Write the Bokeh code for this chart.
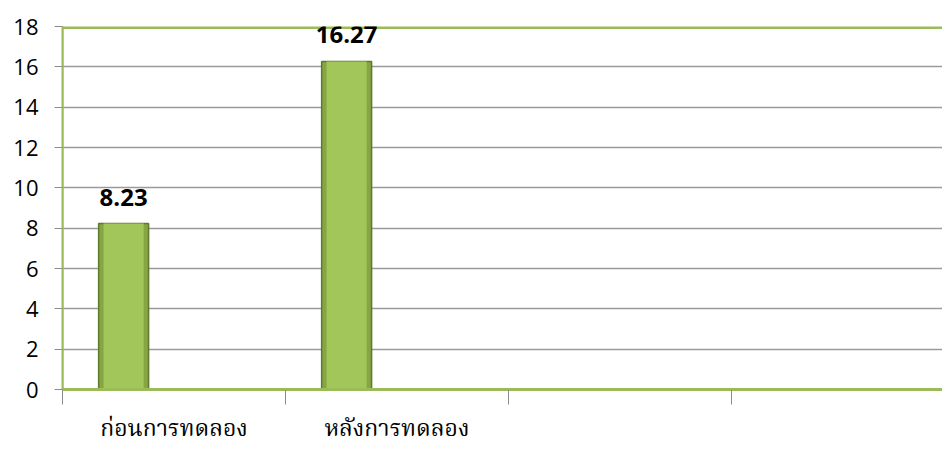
from bokeh.plotting import figure
from bokeh.models import Range1d, FixedTicker, Span, ColumnDataSource, LabelSet
from bokeh.core.properties import value
from bokeh.embed import file_html
from bokeh.resources import INLINE

categories = ["ก่อนการทดลอง", "หลังการทดลอง"]
values = [8.23, 16.27]
value_labels = ["8.23", "16.27"]
y_ticks = [0, 2, 4, 6, 8, 10, 12, 14, 16, 18]
n_slots = 4

GREEN = "#9BBB59"

bar_x = [i + 0.274 for i in range(len(values))]
src = ColumnDataSource(dict(x=bar_x, top=values, lab=value_labels))

p = figure(width=942, height=450, output_backend="svg", toolbar_location=None,
           x_range=Range1d(0, 3.946), y_range=Range1d(0, 18),
           min_border_left=62, min_border_top=26, min_border_right=0, min_border_bottom=61)
p.outline_line_color = None
p.background_fill_color = "white"

p.vbar(x="x", top="top", width=0.224, bottom=0, source=src,
       fill_color="#86A543", line_color="#5E7A2C", line_width=1.5)
# lighter inner face for bevel look
p.vbar(x="x", top="top", width=0.18, bottom=0, source=src,
       fill_color="#A2C659", line_color=None)

# grid
p.xgrid.visible = False
p.ygrid.ticker = FixedTicker(ticks=y_ticks)
p.ygrid.grid_line_color = "#9A9A9A"
p.ygrid.grid_line_width = 1.5

# frame lines
p.add_layout(Span(location=18, dimension="width", line_color=GREEN, line_width=5, level="underlay"))
p.add_layout(Span(location=0, dimension="height", line_color=GREEN, line_width=2, level="underlay"))

labels = LabelSet(x="x", y="top", text="lab", source=src, text_align="center",
                  text_baseline="alphabetic", y_offset=18, text_font=value("Open Sans"),
                  text_font_style="bold", text_font_size="24px", text_color="black",
                  level="overlay")
p.add_layout(labels)

# y axis
p.yaxis.ticker = FixedTicker(ticks=y_ticks, minor_ticks=[])
p.yaxis.axis_line_color = GREEN
p.yaxis.axis_line_width = 2
p.yaxis.major_tick_line_color = "#8C8C8C"
p.yaxis.major_tick_out = 8
p.yaxis.major_tick_in = 0
p.yaxis.major_label_text_font = "Open Sans"
p.yaxis.major_label_text_font_size = "22px"
p.yaxis.major_label_text_color = "black"
p.yaxis.major_label_standoff = 16

# x axis: labels at category positions, boundary ticks as minor ticks
label_pos = [i + 0.5 for i in range(len(categories))]
p.xaxis.ticker = FixedTicker(ticks=label_pos, minor_ticks=list(range(n_slots + 1)))
p.xaxis.major_label_overrides = {pos: c for pos, c in zip(label_pos, categories)}
p.xaxis.axis_line_color = GREEN
p.xaxis.axis_line_width = 3
p.xaxis.major_tick_out = 0
p.xaxis.major_tick_in = 0
p.xaxis.minor_tick_out = 15
p.xaxis.minor_tick_in = 0
p.xaxis.minor_tick_line_color = "#8C8C8C"
p.xaxis.minor_tick_line_width = 1
p.xaxis.major_label_text_font = "Noto Serif Thai, Liberation Serif, serif"
p.xaxis.major_label_text_font_size = "23px"
p.xaxis.major_label_text_color = "black"
p.xaxis.major_label_standoff = 7

open("out.html", "w").write(file_html(p, INLINE))
